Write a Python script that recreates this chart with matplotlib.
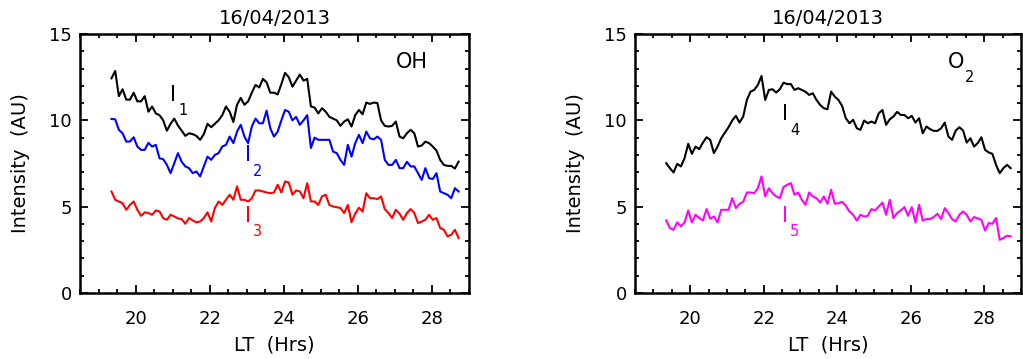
import numpy as np
import matplotlib
matplotlib.use("Agg")
import matplotlib.pyplot as plt
from matplotlib.ticker import MultipleLocator

plt.rcParams['font.family'] = ['DejaVu Sans']

DATE = '16/04/2013'

# Local time grid shared by all channels (hours, past midnight counted as 24+)
lt = np.linspace(19.35, 28.72, 95)

# OH band intensities (AU)
oh_i1 = [12.43, 12.86, 11.4, 11.8, 11.2, 11.2, 11.6, 11.1, 11.1, 11.4,
         10.5, 10.8, 10.4, 10.3, 10.0, 9.4, 9.8, 10.1, 9.7, 9.4,
         9.1, 9.25, 9.2, 9.1, 8.87, 9.2, 9.8, 9.6, 9.8, 10.0,
         10.3, 10.8, 10.5, 9.9, 10.9, 11.3, 10.9, 11.1, 11.6, 12.05,
         11.9, 12.4, 12.2, 11.6, 11.6, 11.5, 12.1, 12.75, 12.5, 11.95,
         12.3, 12.65, 12.3, 12.4, 10.8, 10.74, 10.4, 10.7, 10.5, 10.2,
         10.1, 10.0, 9.68, 9.93, 10.06, 9.64, 10.3, 10.6, 10.35, 11.03,
         10.95, 11.03, 11.0, 10.0, 9.68, 9.64, 9.68, 9.93, 9.06, 8.96,
         9.25, 9.45, 9.25, 8.48, 8.54, 8.77, 8.68, 8.48, 8.25, 7.71,
         7.42, 7.36, 7.36, 7.21, 7.61]

oh_i2 = [10.08, 10.06, 9.45, 9.25, 8.77, 8.77, 9.02, 8.48, 8.29, 8.29,
         8.7, 8.48, 8.58, 7.8, 7.75, 7.42, 6.94, 7.52, 8.1, 7.6,
         7.33, 7.23, 6.94, 7.04, 6.75, 7.33, 7.9, 7.71, 8.0, 8.1,
         8.48, 8.58, 9.06, 8.68, 9.35, 9.74, 9.06, 8.68, 9.64, 10.1,
         9.83, 9.83, 10.56, 9.54, 9.06, 9.35, 10.0, 10.6, 10.5, 10.0,
         10.2, 9.74, 10.0, 10.3, 8.4, 9.0, 8.87, 8.87, 8.87, 8.87,
         8.19, 8.1, 7.71, 7.42, 8.58, 7.9, 8.68, 9.16, 8.68, 9.35,
         8.96, 8.9, 9.06, 8.87, 7.71, 7.42, 7.42, 7.71, 7.23, 7.23,
         7.6, 7.33, 7.33, 6.94, 6.55, 7.23, 6.65, 6.6, 6.94, 5.88,
         5.78, 5.69, 5.49, 6.07, 5.88]

oh_i3 = [5.88, 5.4, 5.3, 5.2, 4.82, 5.1, 5.3, 4.82, 4.47, 4.67,
         4.63, 4.53, 4.78, 4.72, 4.34, 4.24, 4.53, 4.43, 4.32, 4.28,
         4.01, 4.34, 4.2, 4.09, 4.14, 4.34, 4.67, 4.14, 4.92, 5.3,
         5.1, 5.4, 5.69, 5.4, 6.17, 5.4, 5.4, 5.3, 5.49, 5.94,
         5.94, 5.88, 5.82, 5.78, 5.82, 6.27, 5.82, 6.46, 6.4, 5.69,
         5.94, 5.88, 5.49, 6.36, 5.3, 5.3, 5.1, 5.59, 5.69, 5.1,
         5.01, 4.97, 4.92, 4.63, 5.1, 4.1, 4.6, 4.94, 4.72, 5.78,
         5.49, 5.49, 5.44, 5.59, 4.86, 4.63, 4.34, 4.82, 4.59, 4.24,
         4.63, 4.86, 4.63, 4.05, 4.14, 4.24, 4.53, 4.24, 4.34, 3.76,
         3.66, 3.28, 3.37, 3.66, 3.18]

# O2 band intensities (AU)
o2_i4 = [7.52, 7.23, 6.98, 7.48, 7.33, 7.81, 8.64, 8.06, 8.48, 8.33,
         8.71, 9.02, 8.87, 8.1, 8.48, 8.96, 9.29, 9.6, 9.99, 10.26,
         9.87, 10.22, 11.18, 11.66, 11.76, 12.05, 12.57, 11.18, 11.76, 11.8,
         11.61, 11.8, 12.18, 12.1, 12.1, 11.76, 11.86, 11.76, 11.66, 11.47,
         11.57, 11.18, 10.89, 10.7, 10.64, 11.66, 11.37, 11.18, 10.83, 10.12,
         9.83, 10.03, 9.54, 9.45, 9.99, 9.83, 9.93, 9.83, 10.41, 10.6,
         9.74, 10.06, 10.22, 10.49, 10.31, 10.31, 10.12, 10.26, 9.87, 10.12,
         9.25, 9.64, 9.49, 9.39, 9.39, 9.54, 9.87, 9.06, 8.87, 9.41,
         9.6, 9.41, 8.71, 8.96, 8.48, 8.68, 9.02, 8.29, 8.14, 8.06,
         7.42, 6.94, 7.23, 7.42, 7.23]

o2_i5 = [4.2, 3.76, 3.66, 4.09, 3.86, 4.09, 4.78, 4.09, 4.53, 4.34,
         4.2, 4.86, 4.3, 4.43, 4.09, 4.82, 4.82, 4.82, 5.49, 4.92,
         5.17, 5.28, 5.82, 5.82, 5.78, 6.07, 6.75, 5.59, 6.07, 5.78,
         5.59, 5.49, 6.13, 6.27, 6.36, 5.69, 5.82, 5.4, 5.11, 5.82,
         5.59, 5.49, 5.24, 5.59, 5.17, 5.98, 5.17, 5.2, 5.28, 5.05,
         4.72, 4.53, 4.2, 4.53, 4.43, 4.47, 4.86, 4.78, 5.01, 5.24,
         4.53, 5.4, 4.34, 4.63, 4.78, 4.97, 4.47, 4.97, 4.09, 5.11,
         4.2, 4.28, 4.28, 4.4, 4.59, 4.28, 4.92, 4.63, 4.28, 4.14,
         4.53, 4.72, 4.53, 4.14, 4.4, 4.32, 4.24, 3.62, 4.05, 4.01,
         4.34, 3.08, 3.18, 3.32, 3.28]

W, H = 1023, 359


def setup_axes(ax):
    ax.set_xlim(18.5, 29.0)
    ax.set_ylim(0, 15)
    ax.xaxis.set_major_locator(MultipleLocator(2))
    ax.xaxis.set_minor_locator(MultipleLocator(0.5))
    ax.yaxis.set_major_locator(MultipleLocator(5))
    ax.yaxis.set_minor_locator(MultipleLocator(1))
    ax.tick_params(which='both', direction='in', top=True, right=True,
                   width=1.3, labelsize=13)
    ax.tick_params(which='major', length=5.5)
    ax.tick_params(which='minor', length=3)
    ax.tick_params(axis='x', pad=12)
    ax.tick_params(axis='y', pad=6)
    for sp in ax.spines.values():
        sp.set_linewidth(1.8)
    ax.set_title(DATE, fontsize=14, pad=7)
    ax.set_xlabel('LT  (Hrs)', fontsize=14)
    ax.set_ylabel('Intensity  (AU)', fontsize=14)
    ax.xaxis.set_label_coords(0.5, -0.20)
    ax.xaxis.label.set_va('center')
    ax.yaxis.set_label_coords(-0.153, 0.5)
    ax.yaxis.label.set_va('center')


def label_curve(ax, x, y, sub, color):
    ax.text(x, y, 'I', color=color, fontsize=15, ha='center', va='center')
    ax.annotate(sub, (x, y), xytext=(7, -11.5), textcoords='offset points',
                color=color, fontsize=10.5, ha='center', va='center')


fig = plt.figure(figsize=(W / 100, H / 100), dpi=100)
ax1 = fig.add_axes([80 / W, 66 / H, 389 / W, 259 / H])
ax2 = fig.add_axes([635 / W, 66 / H, 386 / W, 259 / H])

for ax in (ax1, ax2):
    setup_axes(ax)

ax1.plot(lt, oh_i1, color='black', lw=1.5)
ax1.plot(lt, oh_i2, color='#0000ff', lw=1.5)
ax1.plot(lt, oh_i3, color='#ff0000', lw=1.5)
label_curve(ax1, 21.01, 11.47, '1', 'black')
label_curve(ax1, 23.04, 7.99, '2', '#0000ff')
label_curve(ax1, 23.04, 4.46, '3', '#ff0000')
ax1.text(27.47, 13.38, 'OH', fontsize=15, ha='center', va='center')

ax2.plot(lt, o2_i4, color='black', lw=1.5)
ax2.plot(lt, o2_i5, color='#ff00ff', lw=1.5)
label_curve(ax2, 22.58, 10.36, '4', 'black')
label_curve(ax2, 22.58, 4.46, '5', '#ff00ff')
ax2.text(27.23, 13.38, 'O', fontsize=15, ha='center', va='center')
ax2.annotate('2', (27.23, 13.38), xytext=(10, -11), textcoords='offset points',
             fontsize=10.5, ha='center', va='center')

fig.savefig('out.png', dpi=100)
